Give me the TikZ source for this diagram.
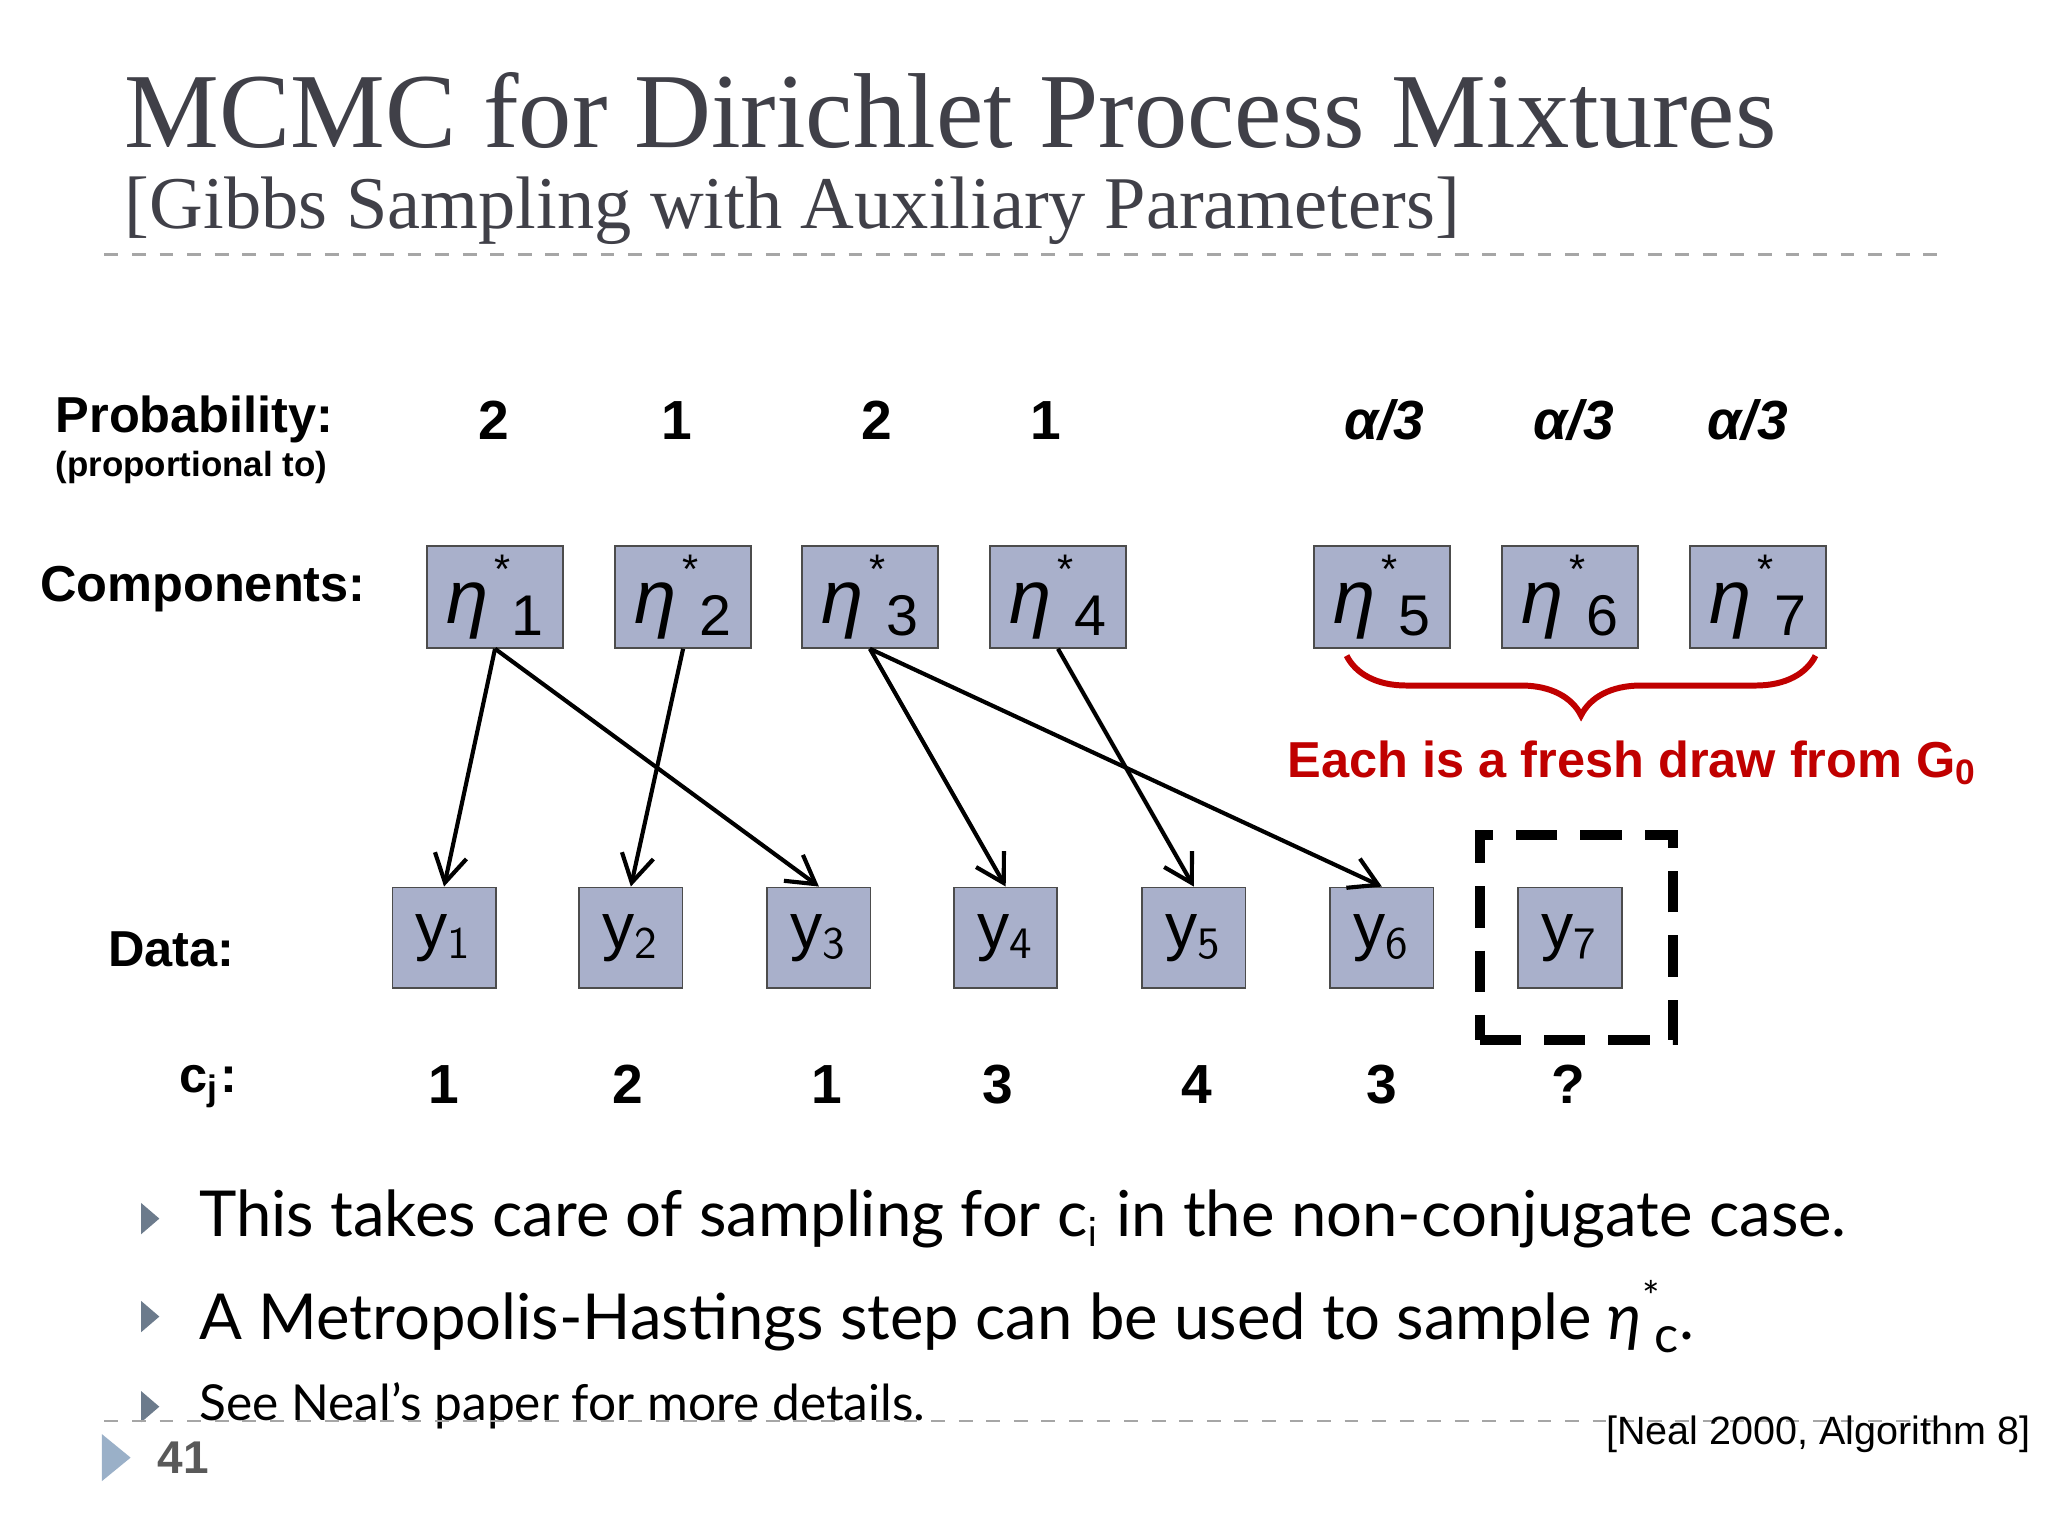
\documentclass[tikz,border=0pt]{standalone}
\usepackage{fontspec}
\setmainfont{Liberation Sans}
\newfontfamily\titlefont{Liberation Serif}
\newfontfamily\bodyfont{Lato}
\usetikzlibrary{decorations.pathreplacing,arrows.meta}
\definecolor{boxfill}{HTML}{A9B0CB}
\definecolor{titlegray}{HTML}{404048}
\definecolor{redtxt}{HTML}{C00000}
\definecolor{tri}{HTML}{9AB0C8}
\newcommand{\etastar}[1]{\textit{η}\hspace{0.08em}\rlap{\raisebox{1.0ex}{\fontsize{9}{9}\selectfont *}}\hspace{0.22em}\raisebox{-0.3ex}{\fontsize{12.5}{12.5}\selectfont #1}}
\tikzset{
 comp/.style={draw=black!70,fill=boxfill,minimum width=1.04cm,minimum height=0.78cm,inner sep=0pt,font=\fontsize{16.5}{16.5}\selectfont},
 datb/.style={draw=black!70,fill=boxfill,minimum width=0.79cm,minimum height=0.77cm,inner sep=0pt,font=\fontsize{14}{14}\selectfont},
 lab/.style={anchor=west,inner sep=0pt,font=\fontsize{11}{11}\selectfont\bfseries},
 num/.style={font=\fontsize{12}{12}\selectfont\bfseries},
 arr/.style={-{Straight Barb[length=6pt,width=7pt]},line width=0.9pt},
}
\begin{document}
\begin{tikzpicture}[x=0.01cm,y=-0.01cm]
\useasboundingbox (0,0) rectangle (1568,1176);
\fill[white] (0,0) rectangle (1568,1176);
% title
\node[anchor=base west,inner sep=0,text=titlegray,font=\titlefont\fontsize{23.2}{23.2}\selectfont] (title) at (95,113) {MCMC for Dirichlet Process Mixtures};
\node[anchor=base west,inner sep=0,text=titlegray,font=\titlefont\fontsize{16.2}{16.2}\selectfont] (sub) at (95,175) {[Gibbs Sampling with Auxiliary Parameters]};
\draw[black!35,dashed,line width=0.6pt] (80,195) -- (1490,195);
% labels
\node[lab] (lp) at (42,321) {Probability:};
\node[anchor=west,inner sep=0pt,font=\fontsize{7.6}{7.6}\selectfont\bfseries] (lpp) at (42,358) {(proportional to)};
\node[lab] (lc) at (30,451) {Components:};
\node[lab] (ld) at (82,727) {Data:};
\node[lab] (lcj) at (137,832) {c$_{\mathbf{j}}$:};
% probabilities
\foreach \x/\t [count=\i] in {378/2,518/1,671/2,801/1}{\node[num] (p\i) at (\x,322) {\t};}
\foreach \x [count=\i from 5] in {1060,1205,1338}{\node[num] (p\i) at (\x,322) {\itshape α/3};}
% components
\foreach \x [count=\i] in {379,523,666,810,1058,1202,1346}{
 \node[comp] (e\i) at (\x,457) {\etastar{\i}};}
% data
\foreach \x [count=\i] in {340,483,627,770,914,1058,1202}{
 \node[datb] (y\i) at (\x,718) {y$_{\mathsf{\i}}$};}
\foreach \x/\t [count=\i] in {340/1,481/2,633/1,764/3,916/4,1058/3,1201/?}{\node[num] (c\i) at (\x,830) {\t};}
% arrows
\draw[arr] (e1.south) -- (y1.north);
\draw[arr] (e1.south) -- (y3.north);
\draw[arr] (e2.south) -- (y2.north);
\draw[arr] (e3.south) -- (y4.north);
\draw[arr] (e3.south) -- (y6.north);
\draw[arr] (e4.south) -- (y5.north);
% dashed box
\node[draw,line width=2.2pt,dash pattern=on 9pt off 5pt,minimum width=1.48cm,minimum height=1.57cm] (db) at (1207,718) {};
% brace
\draw[redtxt,line width=1.3pt,decorate,decoration={brace,mirror,amplitude=13pt}] (1031,502) -- (1390,502);
\node[text=redtxt,font=\fontsize{11}{11}\selectfont\bfseries] (fresh) at (1250,584) {Each is a fresh draw from G$_{\mathbf{0}}$};
% bullets
\foreach \yy in {933,1008,1077}{\fill[tri!70!black] (108,\yy-12) -- (122,\yy) -- (108,\yy+12) -- cycle;}
\node[anchor=west,inner sep=0pt,font=\bodyfont\fontsize{13.8}{13.8}\selectfont] (b1) at (152,933) {This takes care of sampling for c$_{\mathsf{i}}$ in the non-conjugate case.};
\node[anchor=west,inner sep=0pt,font=\bodyfont\fontsize{13.8}{13.8}\selectfont] (b2) at (152,1008) {A Metropolis-Hastings step can be used to sample \textit{η}\rlap{\raisebox{0.9ex}{\fontsize{9}{9}\selectfont *}}\hspace{0.2em}\raisebox{-0.4ex}{\fontsize{11}{11}\selectfont c}.};
\node[anchor=west,inner sep=0pt,font=\bodyfont\fontsize{10.8}{10.8}\selectfont] (b3) at (152,1076) {See Neal’s paper for more details.};
\draw[black!35,dashed,line width=0.6pt] (80,1088) -- (1490,1088);
\fill[tri] (78,1098) -- (100,1116) -- (78,1134) -- cycle;
\node[anchor=west,inner sep=0pt,text=black!65,font=\fontsize{10}{10}\selectfont\bfseries] (pg) at (120,1116) {41};
\node[anchor=east,inner sep=0pt,font=\fontsize{8.6}{8.6}\selectfont] (ref) at (1555,1098) {[Neal 2000, Algorithm 8]};
\end{tikzpicture}
\end{document}
